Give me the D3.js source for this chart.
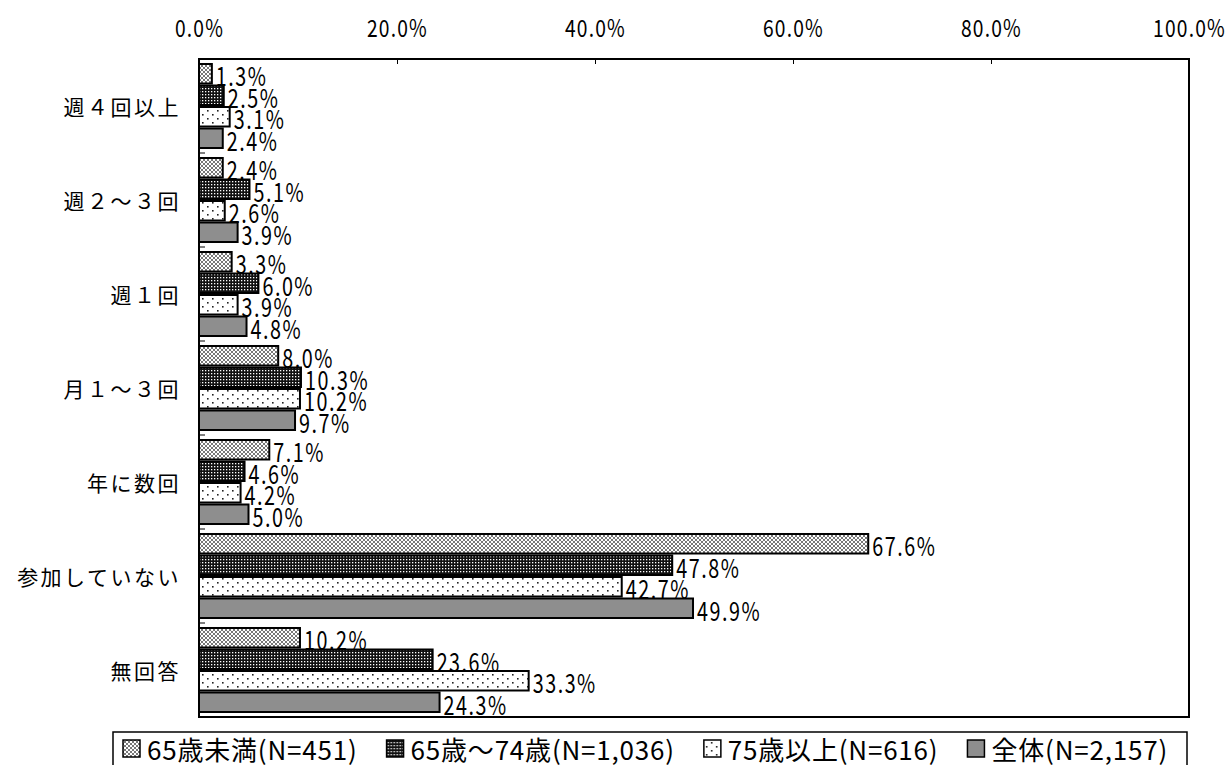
<!DOCTYPE html>
<html>
<head>
<meta charset="utf-8">
<script src="https://cdn.jsdelivr.net/npm/d3@7"></script>
<style>
  body { margin: 0; background: #fff; }
  text { font-family: "Noto Sans CJK JP", "Noto Sans", sans-serif; fill: #000; }
</style>
</head>
<body>
<svg id="canvas" width="1229" height="765"></svg>
<script>
var categories = ['週４回以上', '週２〜３回', '週１回', '月１〜３回', '年に数回', '参加していない', '無回答'];
var seriesNames = ['65歳未満(N=451)', '65歳〜74歳(N=1,036)', '75歳以上(N=616)', '全体(N=2,157)'];
var under65 = [1.3, 2.4, 3.3, 8.0, 7.1, 67.6, 10.2];
var age65to74 = [2.5, 5.1, 6.0, 10.3, 4.6, 47.8, 23.6];
var over75 = [3.1, 2.6, 3.9, 10.2, 4.2, 42.7, 33.3];
var total = [2.4, 3.9, 4.8, 9.7, 5.0, 49.9, 24.3];
var xTicks = [0, 20, 40, 60, 80, 100];

var seriesValues = [under65, age65to74, over75, total];
var fills = ['url(#pat-cross)', 'url(#pat-dark)', 'url(#pat-dots)', '#8e8e8e'];

var svg = d3.select('#canvas');
var plotLeft = 199, plotRight = 1189, plotTop = 59, plotBottom = 717;
var narrow = 0.76; // horizontal squeeze for the numbers

// patterns
var defs = svg.append('defs');
var p1 = defs.append('pattern').attr('id', 'pat-cross').attr('patternUnits', 'userSpaceOnUse')
  .attr('width', 4).attr('height', 4);
p1.append('rect').attr('width', 4).attr('height', 4).attr('fill', '#fff');
p1.append('path').attr('d', 'M0,0L4,4M4,0L0,4').attr('stroke', '#555').attr('stroke-width', 0.8);

var p2 = defs.append('pattern').attr('id', 'pat-dark').attr('patternUnits', 'userSpaceOnUse')
  .attr('width', 3).attr('height', 3);
p2.append('rect').attr('width', 3).attr('height', 3).attr('fill', '#111');
p2.append('rect').attr('x', 1).attr('y', 1).attr('width', 1.3).attr('height', 1.3).attr('fill', '#fff');

var p3 = defs.append('pattern').attr('id', 'pat-dots').attr('patternUnits', 'userSpaceOnUse')
  .attr('width', 10).attr('height', 8);
p3.append('rect').attr('width', 10).attr('height', 8).attr('fill', '#fff');
p3.append('rect').attr('x', 2).attr('y', 2).attr('width', 1.6).attr('height', 1.6).attr('fill', '#222');
p3.append('rect').attr('x', 7).attr('y', 6).attr('width', 1.6).attr('height', 1.6).attr('fill', '#222');

var x = d3.scaleLinear().domain([0, 100]).range([plotLeft, plotRight]);
var y = d3.scaleBand().domain(categories).range([plotTop, plotBottom])
  .paddingInner(0.085).paddingOuter(0.0425);
var ySub = d3.scaleBand().domain(d3.range(4)).range([0, y.bandwidth()]);

// plot frame
svg.append('rect')
  .attr('x', plotLeft).attr('y', plotTop)
  .attr('width', plotRight - plotLeft).attr('height', plotBottom - plotTop)
  .attr('fill', 'none').attr('stroke', '#000').attr('stroke-width', 2);

// top axis
var xAxis = svg.append('g')
  .attr('transform', 'translate(0,' + plotTop + ')')
  .call(d3.axisTop(x).tickValues(xTicks).tickSizeInner(-5).tickSizeOuter(0)
    .tickFormat(d => d3.format('.1f')(d) + '%'));
xAxis.select('.domain').remove();
xAxis.selectAll('line').attr('stroke', '#000');
xAxis.selectAll('text')
  .attr('y', -22)
  .attr('transform', 'scale(0.8,1)')
  .style('font-size', '24px')
  .style('font-family', '"Noto Sans CJK JP", sans-serif')
  .style('letter-spacing', '1.5px');

// category ticks at group boundaries
var step = y.step();
svg.append('g').selectAll('line')
  .data(categories)
  .enter()
  .append('line')
  .attr('x1', plotLeft).attr('x2', plotLeft + 6)
  .attr('y1', d => y(d) - y.paddingInner() * step / 2 + step)
  .attr('y2', d => y(d) - y.paddingInner() * step / 2 + step)
  .attr('stroke', '#000').attr('stroke-width', 1);

// category labels
svg.append('g').selectAll('text')
  .data(categories)
  .enter()
  .append('text')
  .attr('x', 181)
  .attr('y', d => y(d) + y.bandwidth() / 2)
  .attr('text-anchor', 'end')
  .attr('dominant-baseline', 'central')
  .style('font-size', '21px')
  .style('letter-spacing', '2.5px')
  .text(d => d);

// bars
var fmt = d3.format('.1f');
seriesValues.forEach(function(vals, si) {
  var g = svg.append('g').attr('class', 'series');
  g.selectAll('rect')
    .data(vals)
    .enter()
    .append('rect')
    .attr('x', x(0))
    .attr('y', (d, i) => y(categories[i]) + ySub(si) + 1)
    .attr('width', d => x(d) - x(0))
    .attr('height', ySub.bandwidth() - 2)
    .attr('fill', fills[si])
    .attr('stroke', '#000')
    .attr('stroke-width', 2);
  g.selectAll('text')
    .data(vals)
    .enter()
    .append('text')
    .attr('transform', (d, i) => 'translate(' + (x(d) + 4) + ',' +
      (y(categories[i]) + ySub(si) + ySub.bandwidth() / 2 + 1) + ') scale(' + narrow + ',1)')
    .attr('dominant-baseline', 'central')
    .style('font-size', '26px')
    .style('letter-spacing', '2px')
    .text(d => fmt(d) + '%');
});

// legend
var legend = svg.append('g');
legend.append('rect')
  .attr('x', 113).attr('y', 732)
  .attr('width', 1074).attr('height', 40)
  .attr('fill', '#fff').attr('stroke', '#000').attr('stroke-width', 1.5);
var items = seriesNames.map(function(name, si) {
  var gi = legend.append('g');
  gi.append('rect')
    .attr('x', 0).attr('y', 740)
    .attr('width', 17).attr('height', 17)
    .attr('fill', fills[si]).attr('stroke', '#000').attr('stroke-width', 1.5);
  var t = gi.append('text')
    .attr('x', 24).attr('y', 748)
    .attr('dominant-baseline', 'central')
    .style('font-size', '26px')
    .style('letter-spacing', '0.8px')
    .text(name);
  return {g: gi, w: 24 + t.node().getComputedTextLength()};
});
var legStart = 123, legEnd = 1168;
var gap = (legEnd - legStart - d3.sum(items, d => d.w)) / (items.length - 1);
var lx = legStart;
items.forEach(function(it) {
  it.g.attr('transform', 'translate(' + lx + ',0)');
  lx += it.w + gap;
});
</script>
</body>
</html>
